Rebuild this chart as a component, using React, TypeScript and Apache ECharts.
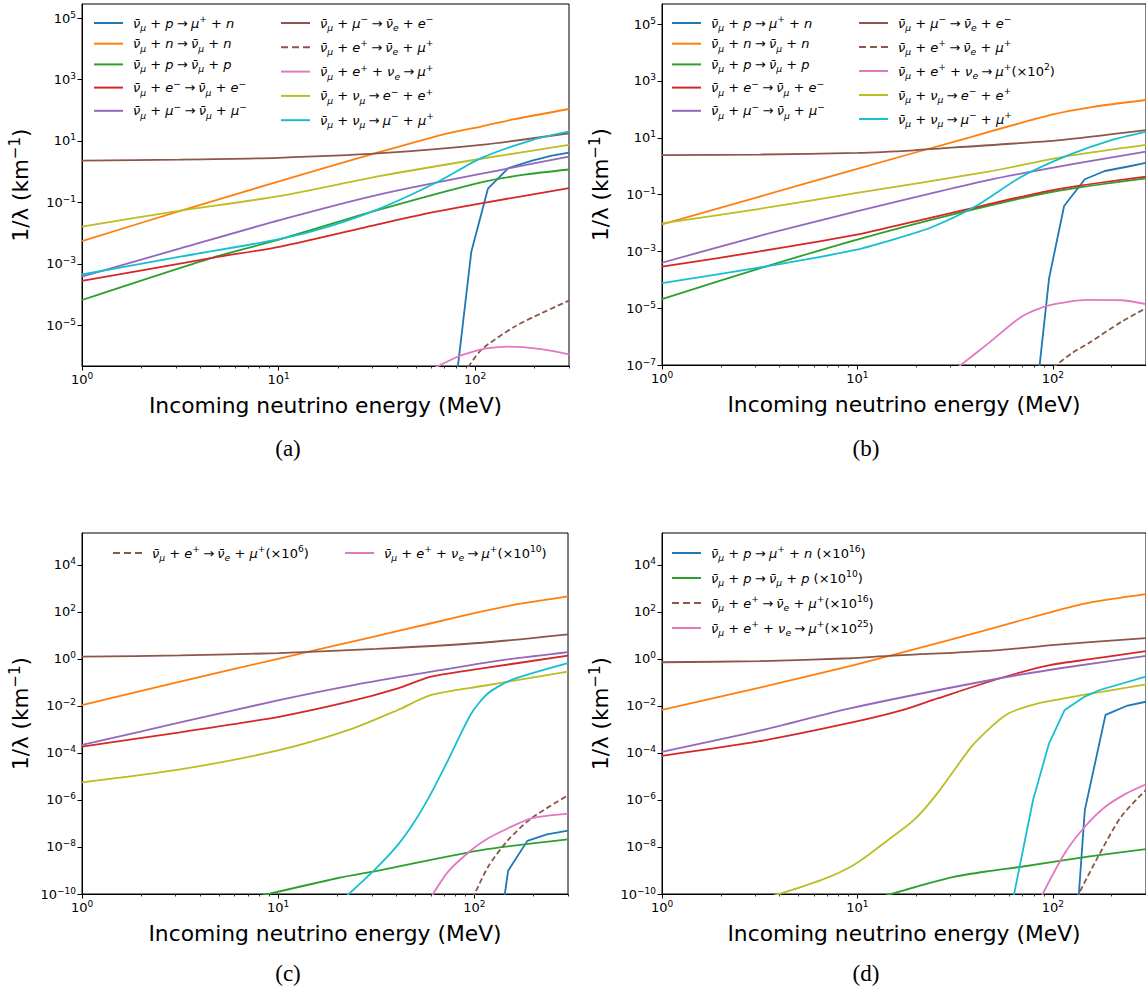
import React, { useEffect, useRef } from "react";
import * as echarts from "echarts";

// ---------------- data ----------------
// Every curve is a list of points [log10(E / MeV), log10(1/λ · km)].
const reactions = [
  "ν̄μ + p → μ⁺ + n",
  "ν̄μ + n → ν̄μ + n",
  "ν̄μ + p → ν̄μ + p",
  "ν̄μ + e⁻ → ν̄μ + e⁻",
  "ν̄μ + μ⁻ → ν̄μ + μ⁻",
  "ν̄μ + μ⁻ → ν̄e + e⁻",
  "ν̄μ + e⁺ → ν̄e + μ⁺",
  "ν̄μ + e⁺ + νe → μ⁺",
  "ν̄μ + νμ → e⁻ + e⁺",
  "ν̄μ + νμ → μ⁻ + μ⁺",
];

const energyMax = 300; // MeV
const xMajorExps = [0, 1, 2];
const xMinorEnergies = [2, 3, 4, 5, 6, 7, 8, 9, 20, 30, 40, 50, 60, 70, 80, 90, 200, 300];

const yTicksA = [-5, -3, -1, 1, 3, 5];
const yTicksB = [-7, -5, -3, -1, 1, 3, 5];
const yTicksCD = [-10, -8, -6, -4, -2, 0, 2, 4];

// scale factors (powers of ten) shown in the legends
const scaleA = [0, 0, 0, 0, 0, 0, 0, 0, 0, 0];
const scaleB = [0, 0, 0, 0, 0, 0, 0, 2, 0, 0];
const scaleC = [0, 0, 0, 0, 0, 0, 6, 10, 0, 0];
const scaleD = [16, 0, 10, 0, 0, 0, 16, 25, 0, 0];

const curvesA = [
  [[1.9, -7.0], [1.98, -2.62], [2.065, -0.55], [2.167, 0.11], [2.29, 0.36], [2.39, 0.52], [2.477, 0.62]],
  [[0, -2.26], [0.5, -1.28], [1.01, -0.3], [1.52, 0.65], [1.86, 1.25], [2.03, 1.47], [2.2, 1.71], [2.477, 2.04]],
  [[0, -4.18], [0.67, -2.79], [1.01, -2.2], [1.49, -1.28], [2.03, -0.35], [2.25, -0.1], [2.477, 0.07]],
  [[0, -3.56], [0.67, -2.8], [1.01, -2.44], [1.49, -1.74], [1.78, -1.33], [2.03, -1.03], [2.477, -0.54]],
  [[0, -3.42], [0.5, -2.5], [1.01, -1.57], [1.52, -0.73], [2.17, 0.11], [2.477, 0.49]],
  [[0, 0.36], [0.5, 0.39], [1.0, 0.45], [1.52, 0.6], [2.03, 0.87], [2.477, 1.25]],
  [[1.94, -6.6], [2.03, -5.81], [2.2, -5.05], [2.337, -4.61], [2.477, -4.2]],
  [[1.76, -6.5], [1.91, -6.03], [1.99, -5.86], [2.065, -5.75], [2.167, -5.7], [2.337, -5.78], [2.477, -5.95]],
  [[0, -1.79], [0.47, -1.3], [1.01, -0.79], [1.52, -0.14], [2.03, 0.42], [2.477, 0.87]],
  [[0, -3.35], [0.5, -2.77], [1.01, -2.19], [1.25, -1.8], [1.52, -1.19], [1.81, -0.33], [2.03, 0.44], [2.29, 1.03], [2.477, 1.3]],
];

const curvesB = [
  [[1.925, -7.5], [1.981, -3.95], [2.058, -1.4], [2.164, -0.46], [2.266, -0.17], [2.38, -0.02], [2.477, 0.12]],
  [[0, -2.05], [0.5, -1.07], [0.99, -0.11], [1.53, 0.93], [2.0, 1.82], [2.2, 2.08], [2.477, 2.33]],
  [[0, -4.68], [0.5, -3.6], [0.99, -2.6], [1.51, -1.66], [2.0, -0.9], [2.477, -0.43]],
  [[0, -3.54], [0.5, -3.0], [0.99, -2.42], [1.29, -1.95], [1.51, -1.6], [2.0, -0.84], [2.477, -0.37]],
  [[0, -3.4], [0.5, -2.45], [0.99, -1.6], [1.67, -0.49], [2.1, 0.07], [2.477, 0.51]],
  [[0, 0.39], [0.5, 0.41], [1.0, 0.47], [1.29, 0.56], [1.5, 0.66], [2.04, 0.92], [2.477, 1.27]],
  [[2.0, -7.1], [2.096, -6.59], [2.181, -6.24], [2.351, -5.48], [2.477, -5.0]],
  [[1.52, -7.05], [1.67, -6.24], [1.84, -5.3], [1.976, -4.91], [2.18, -4.71], [2.35, -4.72], [2.477, -4.86]],
  [[0, -2.01], [0.5, -1.5], [0.99, -0.95], [1.67, -0.19], [2.08, 0.36], [2.477, 0.75]],
  [[0, -4.12], [0.3, -3.79], [0.61, -3.44], [0.99, -2.95], [1.2, -2.55], [1.38, -2.15], [1.6, -1.43], [1.84, -0.37], [2.08, 0.39], [2.3, 0.92], [2.477, 1.21]],
];

const curvesC = [
  [[2.15, -10.3], [2.172, -9.01], [2.27, -7.74], [2.37, -7.46], [2.477, -7.3]],
  [[0, -1.96], [0.5, -0.96], [1.01, 0.03], [1.5, 0.97], [1.78, 1.52], [2.0, 1.95], [2.2, 2.3], [2.36, 2.51], [2.477, 2.66]],
  [[0.9, -10.1], [1.3, -9.33], [1.524, -8.98], [2.036, -8.13], [2.477, -7.68]],
  [[0, -3.73], [0.5, -3.12], [1.01, -2.45], [1.36, -1.82], [1.61, -1.25], [1.78, -0.75], [2.04, -0.4], [2.477, 0.14]],
  [[0, -3.66], [0.5, -2.7], [1.01, -1.74], [1.39, -1.1], [1.78, -0.54], [2.1, -0.1], [2.477, 0.29]],
  [[0, 0.1], [0.5, 0.15], [1.0, 0.25], [1.5, 0.43], [2.04, 0.69], [2.477, 1.05]],
  [[1.99, -10.2], [2.07, -8.84], [2.172, -7.7], [2.29, -6.78], [2.477, -5.8]],
  [[1.76, -10.4], [1.866, -9.05], [1.985, -8.13], [2.07, -7.63], [2.172, -7.2], [2.29, -6.78], [2.477, -6.58]],
  [[0, -5.25], [0.5, -4.7], [1.01, -3.87], [1.36, -3.02], [1.61, -2.17], [1.78, -1.53], [2.04, -1.15], [2.477, -0.54]],
  [[1.32, -10.3], [1.49, -8.98], [1.61, -7.91], [1.695, -6.92], [1.78, -5.71], [1.866, -4.3], [1.985, -2.31], [2.07, -1.46], [2.19, -0.89], [2.477, -0.18]],
];

const curvesD = [
  [[2.125, -11], [2.164, -6.43], [2.27, -2.38], [2.377, -2.0], [2.477, -1.82]],
  [[0, -2.17], [0.5, -1.22], [0.962, -0.3], [1.473, 0.81], [1.814, 1.59], [2.155, 2.34], [2.326, 2.58], [2.477, 2.76]],
  [[1.12, -10.13], [1.33, -9.62], [1.499, -9.26], [1.67, -9.03], [1.84, -8.84], [2.18, -8.41], [2.477, -8.09]],
  [[0, -4.12], [0.5, -3.5], [0.99, -2.67], [1.234, -2.17], [1.41, -1.68], [1.73, -0.82], [1.985, -0.26], [2.2, 0.0], [2.477, 0.33]],
  [[0, -3.95], [0.5, -3.05], [0.962, -2.1], [1.73, -0.82], [2.1, -0.32], [2.477, 0.13]],
  [[0, -0.14], [0.5, -0.09], [0.962, 0.03], [1.157, 0.13], [1.73, 0.38], [2.01, 0.6], [2.477, 0.89]],
  [[2.12, -10.2], [2.232, -8.41], [2.35, -6.71], [2.477, -5.57]],
  [[1.93, -10.3], [2.061, -8.27], [2.164, -7.14], [2.266, -6.31], [2.377, -5.72], [2.477, -5.33]],
  [[0.5, -10.26], [0.817, -9.4], [0.99, -8.72], [1.157, -7.7], [1.29, -6.85], [1.41, -5.71], [1.584, -3.73], [1.686, -2.88], [1.76, -2.38], [1.814, -2.17], [1.925, -1.89], [2.155, -1.53], [2.477, -1.08]],
  [[1.79, -10.5], [1.899, -6.0], [1.981, -3.59], [2.061, -2.17], [2.164, -1.6], [2.24, -1.32], [2.477, -0.75]],
];

// ---------------- presentation ----------------
const COLORS = ["#1f77b4", "#ff7f0e", "#2ca02c", "#d62728", "#9467bd", "#8c564b", "#8c564b", "#e377c2", "#bcbd22", "#17becf"];
const FONT = "DejaVu Sans";
const DASHED_ICON = "path://M0,0h7v2h-7zM11,0h7v2h-7zM22,0h7v2h-7z";

const NB = "{m|ν\u0304}{sb|μ}";
const NBe = "{m|ν\u0304}{sb|e}";
const PL = "{r| + }";
const AR = "{r|\u2005→\u2005}";
const reactionMarkup = [
  NB + PL + "{m|p}" + AR + "{m|μ}{sp|+}" + PL + "{m|n}",
  NB + PL + "{m|n}" + AR + NB + PL + "{m|n}",
  NB + PL + "{m|p}" + AR + NB + PL + "{m|p}",
  NB + PL + "{m|e}{sp|−}" + AR + NB + PL + "{m|e}{sp|−}",
  NB + PL + "{m|μ}{sp|−}" + AR + NB + PL + "{m|μ}{sp|−}",
  NB + PL + "{m|μ}{sp|−}" + AR + NBe + PL + "{m|e}{sp|−}",
  NB + PL + "{m|e}{sp|+}" + AR + NBe + PL + "{m|μ}{sp|+}",
  NB + PL + "{m|e}{sp|+}" + PL + "{m|ν}{sb|e}" + AR + "{m|μ}{sp|+}",
  NB + PL + "{m|ν}{sb|μ}" + AR + "{m|e}{sp|−}" + PL + "{m|e}{sp|+}",
  NB + PL + "{m|ν}{sb|μ}" + AR + "{m|μ}{sp|−}" + PL + "{m|μ}{sp|+}",
];

const supDigits: Record<string, string> = { "0": "⁰", "1": "¹", "2": "²", "3": "³", "4": "⁴", "5": "⁵", "6": "⁶", "7": "⁷", "8": "⁸", "9": "⁹" };
const seriesName = (i: number, k: number) =>
  k ? `${reactions[i]} (×10${String(k).split("").map((c) => supDigits[c]).join("")})` : reactions[i];
const nameMarkup: Record<string, string> = {};
[scaleA, scaleB, scaleC, scaleD].forEach((sc) =>
  sc.forEach((k, i) => {
    const base = reactionMarkup[i];
    const endsLetter = /\{m\|[np]\}$/.test(base);
    nameMarkup[seriesName(i, k)] = k ? base + `{r|${endsLetter ? " " : ""}(×10}{sp|${k}}{r|)}` : base;
  })
);

const LF = 13;
const LS = 9.2;
const legendRich = {
  m: { fontFamily: FONT, fontStyle: "italic", fontSize: LF, lineHeight: 18, color: "#000" },
  r: { fontFamily: FONT, fontSize: LF, lineHeight: 18, color: "#000" },
  sb: { fontFamily: FONT, fontStyle: "italic", fontSize: LS, lineHeight: 10, verticalAlign: "bottom", color: "#000" },
  sp: { fontFamily: FONT, fontSize: LS, lineHeight: 10, verticalAlign: "top", color: "#000" },
};

const tickRich = {
  b: { fontFamily: FONT, fontSize: 13, lineHeight: 16, color: "#000" },
  s: { fontFamily: FONT, fontSize: 9, lineHeight: 9, verticalAlign: "top", color: "#000" },
};
const powLabel = (v: number) => {
  const n = Math.round(v);
  return `{b|10}{s|${n < 0 ? "−" + -n : n}}`;
};

const LOG_EMAX = Math.log10(energyMax);
const minorLogs = xMinorEnergies.map((e) => Math.log10(e));

const panels = [
  { curves: curvesA, scale: scaleA, grid: { left: 82, top: 4, width: 487, height: 362 }, yMin: -6.33, yMax: 5.46, yTicks: yTicksA, sharp: [0] },
  { curves: curvesB, scale: scaleB, grid: { left: 662, top: 4, width: 484, height: 361 }, yMin: -7, yMax: 5.71, yTicks: yTicksB, sharp: [0] },
  { curves: curvesC, scale: scaleC, grid: { left: 82, top: 533, width: 486, height: 361 }, yMin: -10, yMax: 5.36, yTicks: yTicksCD, sharp: [0] },
  { curves: curvesD, scale: scaleD, grid: { left: 662, top: 533, width: 484, height: 361 }, yMin: -10, yMax: 5.36, yTicks: yTicksCD, sharp: [0, 9] },
];

// legend columns: [panel, series indices, left, top, gap]
const legendDefs: [number, number[], number, number, number][] = [
  [0, [0, 1, 2, 3, 4], 94, 14, 5.2],
  [0, [5, 6, 7, 8, 9], 281, 14, 6.3],
  [1, [0, 1, 2, 3, 4], 672, 14, 5.2],
  [1, [5, 6, 7, 8, 9], 859, 14, 6.0],
  [2, [6], 113, 544, 5],
  [2, [7], 345, 544, 5],
  [3, [0, 2, 6, 7], 672, 544, 7],
];

const captions = [
  ["(a)", 288, 448],
  ["(b)", 866, 448],
  ["(c)", 288, 973],
  ["(d)", 866, 973],
];

function buildOption() {
  const axisLineStyle = { color: "#000", width: 1 };
  const grid = panels.map((p) => ({
    ...p.grid,
    show: true,
    borderColor: "#000",
    borderWidth: 1,
    backgroundColor: "transparent",
    containLabel: false,
    outerBoundsMode: "none",
  }));
  const xAxis: any[] = [];
  panels.forEach((p, i) => {
    xAxis.push({
      type: "value",
      gridIndex: i,
      min: 0,
      max: LOG_EMAX,
      position: "bottom",
      axisLine: { show: true, onZero: false, lineStyle: axisLineStyle },
      axisTick: { show: true, customValues: xMajorExps, length: 4.5, lineStyle: axisLineStyle },
      axisLabel: { show: true, customValues: xMajorExps, formatter: powLabel, margin: 5, rich: tickRich, color: "#000" },
      splitLine: { show: false },
      name: "Incoming neutrino energy (MeV)",
      nameLocation: "middle",
      nameGap: 28,
      nameTextStyle: { fontFamily: FONT, fontSize: 21.8, color: "#000" },
    });
    xAxis.push({
      type: "value",
      gridIndex: i,
      min: 0,
      max: LOG_EMAX,
      position: "bottom",
      axisLine: { show: false, onZero: false },
      axisTick: { show: true, customValues: minorLogs, length: 2.5, lineStyle: { color: "#000", width: 0.8 } },
      axisLabel: { show: false },
      splitLine: { show: false },
    });
  });
  const yAxis = panels.map((p, i) => ({
    type: "value",
    gridIndex: i,
    min: p.yMin,
    max: p.yMax,
    axisLine: { show: true, onZero: false, lineStyle: axisLineStyle },
    axisTick: { show: true, customValues: p.yTicks, length: 4.5, lineStyle: axisLineStyle },
    axisLabel: { show: true, customValues: p.yTicks, formatter: powLabel, margin: 6, rich: tickRich, color: "#000" },
    splitLine: { show: false },
    name: "{t|1/λ (km}{s|−1}{t|)}",
    nameLocation: "middle",
    nameGap: 49,
    nameRotate: 90,
    nameTextStyle: {
      color: "#000",
      rich: {
        t: { fontFamily: FONT, fontSize: 21.5, lineHeight: 26, color: "#000" },
        s: { fontFamily: FONT, fontSize: 15, lineHeight: 14, verticalAlign: "top", color: "#000" },
      },
    },
  }));
  const series: any[] = [];
  panels.forEach((p, pi) => {
    p.curves.forEach((pts, i) => {
      series.push({
        type: "line",
        name: seriesName(i, p.scale[i]),
        xAxisIndex: pi * 2,
        yAxisIndex: pi,
        data: pts,
        symbol: "none",
        showSymbol: false,
        smooth: p.sharp.includes(i) ? false : 0.25,
        clip: true,
        silent: true,
        lineStyle: { color: COLORS[i], width: 1.8, type: i === 6 ? [5.5, 3] : "solid" },
        itemStyle: { color: COLORS[i] },
      });
    });
  });
  const legend = legendDefs.map(([pi, idx, left, top, gap]) => ({
    orient: "vertical",
    left,
    top,
    padding: 0,
    itemGap: gap,
    itemWidth: 29,
    itemHeight: 2,
    selectedMode: false,
    data: idx.map((i) => ({ name: seriesName(i, panels[pi].scale[i]), icon: i === 6 ? DASHED_ICON : "rect" })),
    formatter: (n: string) => nameMarkup[n] || n,
    textStyle: { color: "#000", fontFamily: FONT, fontSize: LF, padding: [0, 0, 0, 5], rich: legendRich },
  }));
  const graphic = captions.map(([t, x, y]) => ({
    type: "text",
    silent: true,
    style: {
      text: t as string,
      x: x as number,
      y: y as number,
      align: "center",
      verticalAlign: "middle",
      fontFamily: "Liberation Serif",
      fontSize: 23,
      fill: "#000",
    },
  }));
  return { animation: false, backgroundColor: "#fff", grid, xAxis, yAxis, series, legend, graphic };
}

export default function App() {
  const ref = useRef<HTMLDivElement>(null);
  useEffect(() => {
    if (!ref.current) return;
    const chart = echarts.init(ref.current, undefined, { renderer: "svg" });
    chart.setOption(buildOption() as any);
    return () => chart.dispose();
  }, []);
  return (
    <div
      ref={ref}
      style={{ position: "absolute", left: 0, top: 0, width: 1146, height: 993, background: "#fff" }}
    />
  );
}
